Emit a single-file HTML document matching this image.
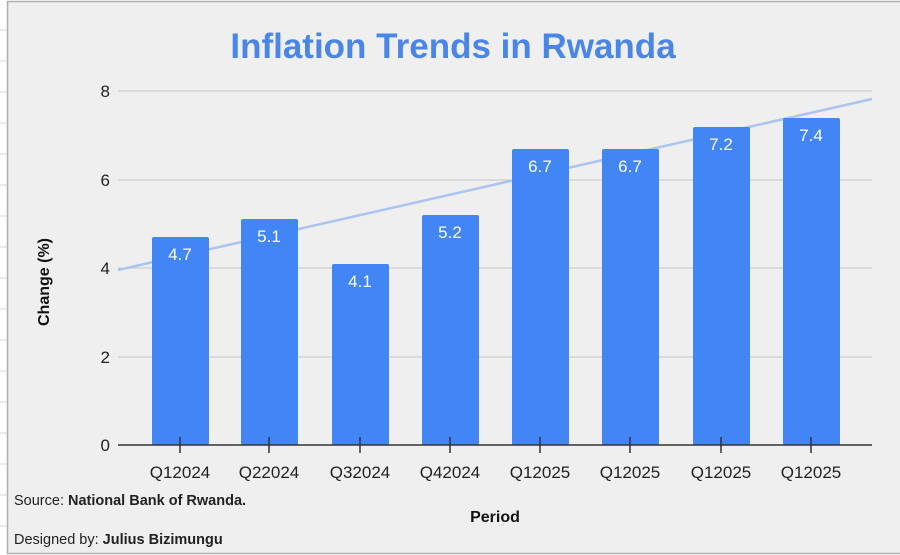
<!DOCTYPE html>
<html><head><meta charset="utf-8"><style>
body{margin:0;background:#fff;}
svg{display:block;font-family:"Liberation Sans",Arial,sans-serif;}
</style></head><body>
<svg width="900" height="555" viewBox="0 0 900 555" xmlns="http://www.w3.org/2000/svg">
<rect x="0" y="0" width="900" height="555" fill="#fff"/>
<g stroke="#d8d8d8" stroke-width="1">
<line x1="0" y1="30" x2="7" y2="30"/><line x1="0" y1="61" x2="7" y2="61"/><line x1="0" y1="92" x2="7" y2="92"/><line x1="0" y1="123" x2="7" y2="123"/><line x1="0" y1="154" x2="7" y2="154"/><line x1="0" y1="185" x2="7" y2="185"/><line x1="0" y1="216" x2="7" y2="216"/><line x1="0" y1="247" x2="7" y2="247"/><line x1="0" y1="278" x2="7" y2="278"/><line x1="0" y1="309" x2="7" y2="309"/><line x1="0" y1="340" x2="7" y2="340"/><line x1="0" y1="371" x2="7" y2="371"/><line x1="0" y1="402" x2="7" y2="402"/><line x1="0" y1="433" x2="7" y2="433"/><line x1="0" y1="464" x2="7" y2="464"/><line x1="0" y1="495" x2="7" y2="495"/><line x1="0" y1="526" x2="7" y2="526"/>
</g>
<rect x="7.5" y="1.5" width="895" height="552" fill="#efefef" stroke="#b0b0b0" stroke-width="1.5"/>
<text x="453" y="58" text-anchor="middle" font-size="35" font-weight="bold" fill="#4a86e8">Inflation Trends in Rwanda</text>
<g stroke="#c4c4c4" stroke-width="1">
<line x1="118" y1="91" x2="872" y2="91"/>
<line x1="118" y1="180" x2="872" y2="180"/>
<line x1="118" y1="268" x2="872" y2="268"/>
<line x1="118" y1="357" x2="872" y2="357"/>
</g>
<g font-size="17" fill="#222" text-anchor="end">
<text x="110" y="97">8</text><text x="110" y="186">6</text><text x="110" y="274">4</text><text x="110" y="363">2</text><text x="110" y="451">0</text>
</g>
<text transform="translate(49,282) rotate(-90)" text-anchor="middle" font-size="16" font-weight="bold" fill="#111">Change (%)</text>
<line x1="118" y1="270" x2="872" y2="99" stroke="#a9c5f0" stroke-width="2.5"/>
<g fill="#4285f4">
<rect x="152" y="237" width="57" height="208" rx="2"/>
<rect x="241" y="219" width="57" height="226" rx="2"/>
<rect x="332" y="264" width="57" height="181" rx="2"/>
<rect x="422" y="215" width="57" height="230" rx="2"/>
<rect x="512" y="149" width="57" height="296" rx="2"/>
<rect x="602" y="149" width="57" height="296" rx="2"/>
<rect x="693" y="127" width="57" height="318" rx="2"/>
<rect x="783" y="118" width="57" height="327" rx="2"/>
</g>
<g font-size="17" fill="#fff" text-anchor="middle">
<text x="180" y="260">4.7</text><text x="269" y="242">5.1</text><text x="360" y="287">4.1</text><text x="450" y="238">5.2</text>
<text x="540" y="172">6.7</text><text x="630" y="172">6.7</text><text x="721" y="150">7.2</text><text x="811" y="141">7.4</text>
</g>
<line x1="118" y1="445" x2="872" y2="445" stroke="#333" stroke-width="1.5"/>
<g stroke="#333" stroke-width="1.5">
<line x1="180" y1="437" x2="180" y2="453"/><line x1="269" y1="437" x2="269" y2="453"/><line x1="360" y1="437" x2="360" y2="453"/><line x1="450" y1="437" x2="450" y2="453"/>
<line x1="540" y1="437" x2="540" y2="453"/><line x1="630" y1="437" x2="630" y2="453"/><line x1="721" y1="437" x2="721" y2="453"/><line x1="811" y1="437" x2="811" y2="453"/>
</g>
<g font-size="17" fill="#222" text-anchor="middle">
<text x="180" y="478">Q12024</text><text x="269" y="478">Q22024</text><text x="360" y="478">Q32024</text><text x="450" y="478">Q42024</text>
<text x="540" y="478">Q12025</text><text x="630" y="478">Q12025</text><text x="721" y="478">Q12025</text><text x="811" y="478">Q12025</text>
</g>
<text x="495" y="522" text-anchor="middle" font-size="16" font-weight="bold" fill="#111">Period</text>
<text x="14" y="505" font-size="14.5" fill="#222">Source: <tspan font-weight="bold">National Bank of Rwanda.</tspan></text>
<text x="14" y="544" font-size="14.5" fill="#222">Designed by: <tspan font-weight="bold">Julius Bizimungu</tspan></text>
</svg>
</body></html>
